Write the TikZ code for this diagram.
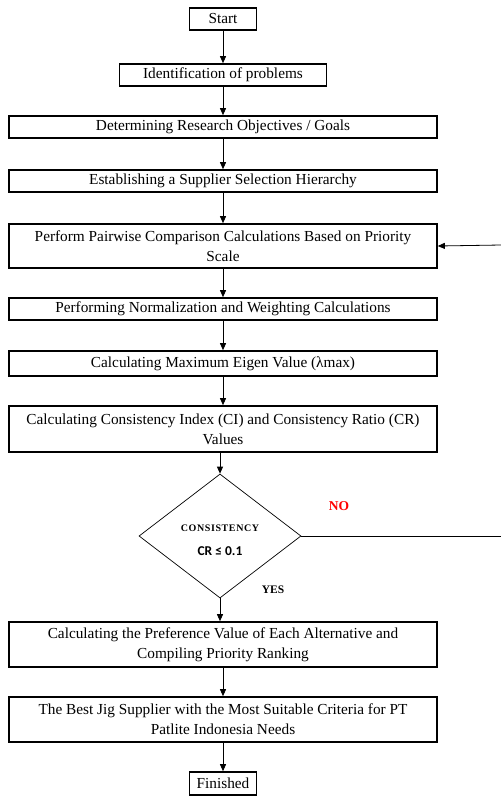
\documentclass[tikz,border=0pt]{standalone}
\usepackage{fontspec}
\setmainfont{Liberation Serif}
\newfontfamily\crfont{Carlito}
\usetikzlibrary{shapes.geometric,arrows.meta}
\begin{document}
\begin{tikzpicture}[x=1pt,y=-1pt,
  box/.style={draw,line width=1.6pt,inner sep=0pt,align=center,font=\fontsize{15.3}{20}\selectfont},
  wide/.style={box,minimum width=428pt},
  arr/.style={line width=0.8pt,-{Triangle[length=7pt,width=6pt]}},
  ln/.style={line width=0.7pt}]
\useasboundingbox (0,0) rectangle (501,796);
\node[box,minimum width=67pt,minimum height=22pt] (start) at (223,19) {Start};
\node[box,minimum width=207pt,minimum height=22pt] (ident) at (223,75) {Identification of problems};
\node[wide,minimum height=22pt] (goal) at (223,127) {Determining Research Objectives / Goals};
\node[wide,minimum height=22pt] (hier) at (223,181) {Establishing a Supplier Selection Hierarchy};
\node[wide,minimum height=44pt] (pair) at (223,246) {Perform Pairwise Comparison Calculations Based on Priority\\Scale};
\node[wide,minimum height=22pt] (norm) at (223,309) {Performing Normalization and Weighting Calculations};
\node[wide,minimum height=25pt] (eig) at (223,363.5) {Calculating Maximum Eigen Value (λmax)};
\node[wide,minimum height=46pt] (ci) at (223,429) {Calculating Consistency Index (CI) and Consistency Ratio (CR)\\Values};
\node[draw,ln,shape=diamond,minimum width=162pt,minimum height=124pt,inner sep=0pt] (dia) at (220,536) {};
\node[align=center,inner sep=0pt] (dtext) at ([yshift=-4pt]dia.center)
  {\fontsize{10}{12}\selectfont\bfseries C\kern0.6pt O\kern0.6pt N\kern0.6pt S\kern0.6pt I\kern0.6pt S\kern0.6pt T\kern0.6pt E\kern0.6pt N\kern0.6pt C\kern0.6pt Y\\[12pt]{\crfont\fontsize{13.5}{15}\selectfont\bfseries CR ≤ 0.1}};
\node[text=red,font=\fontsize{13.5}{15}\selectfont\bfseries] (no) at (339,506) {NO};
\node[font=\fontsize{11.5}{13}\selectfont\bfseries] (yes) at (273,590) {YES};
\node[wide,minimum height=45pt] (pref) at (223,644.5) {Calculating the Preference Value of Each Alternative and\\Compiling Priority Ranking};
\node[wide,minimum height=45pt] (best) at (223,719.5) {The Best Jig Supplier with the Most Suitable Criteria for PT\\Patlite Indonesia Needs};
\node[box,minimum width=67pt,minimum height=23pt] (fin) at (223,783.5) {Finished};
\coordinate (r1) at (501,536);
\coordinate (r2) at (501,245);
\draw[arr] (start) -- (ident);
\draw[arr] (ident) -- (goal);
\draw[arr] (goal) -- (hier);
\draw[arr] (hier) -- (pair);
\draw[arr] (pair) -- (norm);
\draw[arr] (norm) -- (eig);
\draw[arr] (eig) -- (ci);
\draw[arr] (ci.south -| dia.north) -- (dia.north);
\draw[arr] (dia.south) -- (pref.north -| dia.south);
\draw[arr] (pref) -- (best);
\draw[arr] (best) -- (fin);
\draw[ln] (dia.east) -- (r1);
\draw[arr] (r2) -- (pair.east);
\end{tikzpicture}
\end{document}
